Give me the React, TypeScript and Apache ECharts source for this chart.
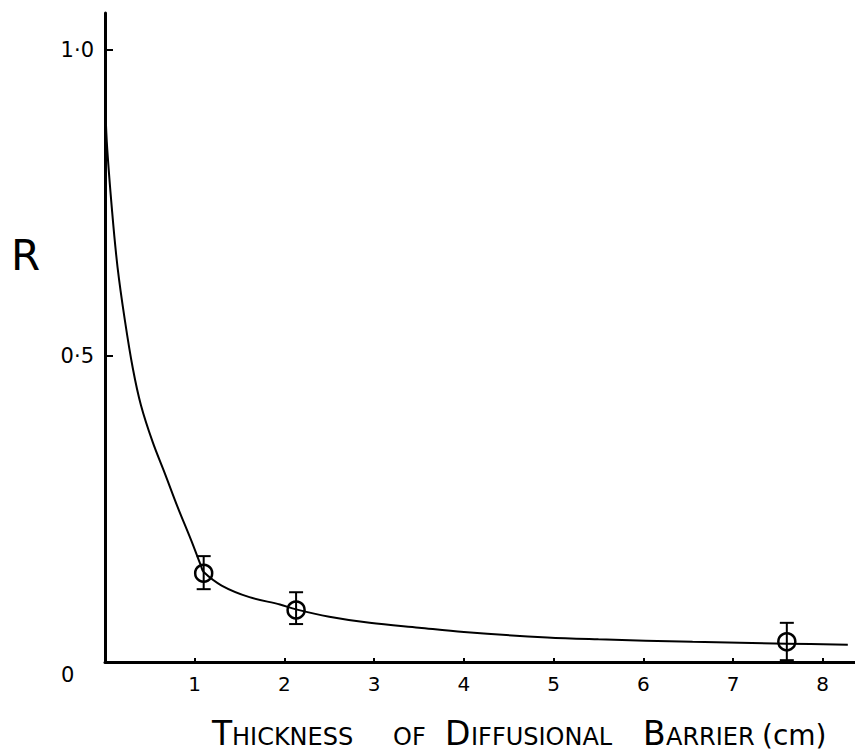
import React, { useEffect, useRef } from "react";
import * as echarts from "echarts";

// Fitted curve
const curveX = [0, 0.02, 0.08, 0.14, 0.22, 0.31, 0.4, 0.53, 0.67, 0.81, 0.96, 1.07, 1.1, 1.3, 1.61, 1.95, 2.13, 2.5, 2.95, 3.5, 4.0, 4.93, 5.5, 6.55, 7.6, 8.28];
const curveY = [0.93, 0.85, 0.735, 0.645, 0.56, 0.48, 0.42, 0.36, 0.307, 0.253, 0.199, 0.157, 0.147, 0.125, 0.106, 0.094, 0.086, 0.074, 0.064, 0.056, 0.049, 0.04, 0.037, 0.033, 0.03, 0.028];

// Measured points with error bars
const pointX = [1.1, 2.13, 7.6];
const pointY = [0.145, 0.085, 0.033];
const errLow = [0.119, 0.062, 0.003];
const errHigh = [0.173, 0.114, 0.064];

// Axis ticks
const xTickLabels = ["1", "2", "3", "4", "5", "6", "7", "8"];
const yTickLabels: Record<string, string> = { "0.5": "0·5", "1": "1·0" };

const FONT = "DejaVu Sans";
const BASE = 745;
const BIG = 33;
const SMALL = 24;

function txt(x: number, s: string, fs: number) {
  return {
    type: "text",
    x,
    y: BASE - 0.346 * fs,
    style: { text: s, fontFamily: FONT, fontSize: fs, fill: "#000", align: "left", verticalAlign: "middle" },
  };
}

export default function App() {
  const ref = useRef<HTMLDivElement>(null);
  useEffect(() => {
    if (!ref.current) return;
    const chart = echarts.init(ref.current, null, { renderer: "svg" });
    chart.setOption({
      animation: false,
      grid: { left: 105, right: 0, top: 13, bottom: 92 },
      xAxis: {
        type: "value",
        min: 0,
        max: 8.36,
        interval: 1,
        axisLine: { lineStyle: { color: "#000", width: 3 } },
        axisTick: { show: true, inside: true, length: 4, lineStyle: { color: "#000", width: 2 } },
        splitLine: { show: false },
        axisLabel: {
          color: "#000",
          fontFamily: FONT,
          fontSize: 20,
          margin: 12,
          showMaxLabel: false,
          formatter: (v: number) => (v >= 1 && v <= 8 ? xTickLabels[v - 1] : ""),
        },
      },
      yAxis: {
        type: "value",
        min: 0,
        max: 1.0605,
        interval: 0.5,
        axisLine: { lineStyle: { color: "#000", width: 3 } },
        axisTick: { show: true, inside: true, length: 8, lineStyle: { color: "#000", width: 2 } },
        splitLine: { show: false },
        axisLabel: {
          color: "#000",
          fontFamily: FONT,
          fontSize: 21,
          margin: 11,
          showMaxLabel: false,
          formatter: (v: number) => yTickLabels[String(v)] ?? "",
        },
      },
      graphic: [
        { type: "text", left: 11, top: 234, style: { text: "R", fontFamily: FONT, fontSize: 42, fill: "#000" } },
        { type: "text", left: 61, top: 664, style: { text: "0", fontFamily: FONT, fontSize: 21, fill: "#000" } },
        txt(212, "T", BIG),
        txt(232, "HICKNESS", SMALL),
        txt(393, "OF", SMALL),
        txt(445, "D", BIG),
        txt(471, "IFFUSIONAL", SMALL),
        txt(643, "B", BIG),
        txt(666, "ARRIER", SMALL),
        txt(762, "(cm)", 28),
      ],
      series: [
        {
          type: "line",
          data: curveX.map((x, i) => [x, curveY[i]]),
          smooth: 0.35,
          showSymbol: false,
          lineStyle: { color: "#000", width: 2 },
          silent: true,
          z: 2,
        },
        {
          type: "custom",
          data: pointX.map((x, i) => [x, errLow[i], errHigh[i]]),
          encode: { x: 0, y: [1, 2] },
          z: 3,
          renderItem: (_p: any, api: any) => {
            const x = api.value(0);
            const top = api.coord([x, api.value(2)]);
            const bot = api.coord([x, api.value(1)]);
            const hw = 7;
            const st = { stroke: "#000", lineWidth: 2 };
            return {
              type: "group",
              children: [
                { type: "line", shape: { x1: top[0], y1: top[1], x2: bot[0], y2: bot[1] }, style: st },
                { type: "line", shape: { x1: top[0] - hw, y1: top[1], x2: top[0] + hw, y2: top[1] }, style: st },
                { type: "line", shape: { x1: bot[0] - hw, y1: bot[1], x2: bot[0] + hw, y2: bot[1] }, style: st },
              ],
            };
          },
        },
        {
          type: "scatter",
          data: pointX.map((x, i) => [x, pointY[i]]),
          symbol: "circle",
          symbolSize: 17,
          itemStyle: { color: "rgba(255,255,255,0)", borderColor: "#000", borderWidth: 2.5, opacity: 1 },
          z: 4,
        },
      ],
    });
    return () => chart.dispose();
  }, []);
  return <div ref={ref} style={{ position: "absolute", left: 0, top: 0, width: 855, height: 754 }} />;
}
